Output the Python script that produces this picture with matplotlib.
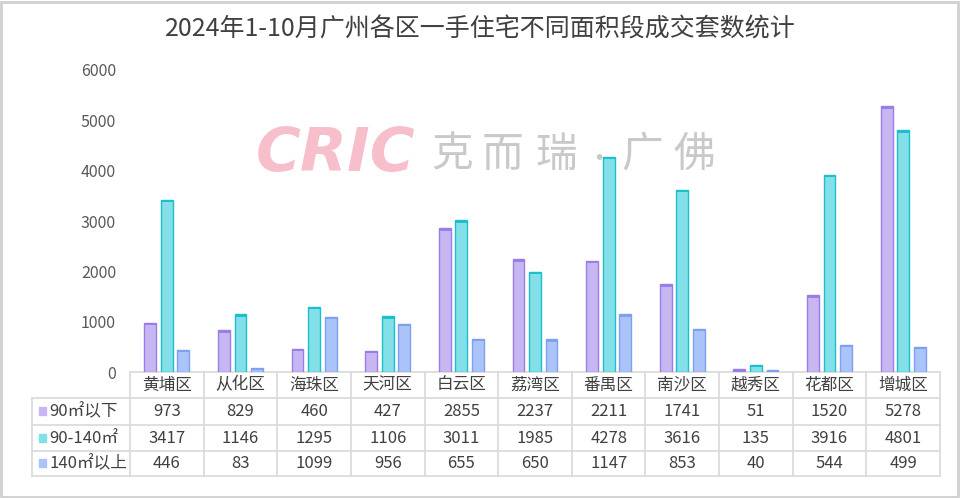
import matplotlib.pyplot as plt
from matplotlib.patches import Rectangle
from matplotlib.lines import Line2D
import matplotlib.transforms as mtransforms

plt.rcParams['font.family'] = ['Noto Sans CJK SC', 'DejaVu Sans']

# data
districts = ['黄埔区', '从化区', '海珠区', '天河区', '白云区', '荔湾区',
             '番禺区', '南沙区', '越秀区', '花都区', '增城区']
series_names = ['90㎡以下', '90-140㎡', '140㎡以上']
below90 = [973, 829, 460, 427, 2855, 2237, 2211, 1741, 51, 1520, 5278]
mid90_140 = [3417, 1146, 1295, 1106, 3011, 1985, 4278, 3616, 135, 3916, 4801]
above140 = [446, 83, 1099, 956, 655, 650, 1147, 853, 40, 544, 499]
yticks = [0, 1000, 2000, 3000, 4000, 5000, 6000]

series = [below90, mid90_140, above140]
faces = ['#c8b6f3', '#84e0e8', '#aac3f8']
edges = ['#9a7ee8', '#1cc0cd', '#7f9ff0']
offsets = [-0.225, 0.0, 0.225]

W, H = 960, 498
fig = plt.figure(figsize=(W / 100, H / 100), dpi=100)
ax = fig.add_axes([130 / W, (H - 372) / H, 810 / W, 302 / H])

n = len(districts)
xs = list(range(n))
for vals, fc, ec, off in zip(series, faces, edges, offsets):
    pos = [x + off for x in xs]
    ax.bar(pos, vals, width=0.16, color=fc, edgecolor=ec, linewidth=1.0, zorder=3)
    # cylinder-like top cap
    ax.bar(pos, [45] * len(vals), width=0.16,
           bottom=[v - 45 for v in vals], color=ec, linewidth=0, zorder=4)

ax.set_xlim(-0.5, n - 0.5)
ax.set_ylim(0, 6000)
ax.set_yticks(yticks)
ax.set_yticklabels([str(t) for t in yticks], fontsize=11.5, color='#595959')
ax.tick_params(axis='y', length=0, pad=10)
ax.set_xticks([])
for s in ax.spines.values():
    s.set_visible(False)

# table below the axes
grid_c = '#d9d9d9'
trans = mtransforms.blended_transform_factory(ax.transData, ax.transAxes)
def yf(py):
    return (372 - py) / 302.0

rows_px = [372, 398, 425, 451, 476]
xleft = -0.5 - 98 / 73.6
xright = n - 0.5
# horizontal lines
ax.add_line(Line2D([-0.5, xright], [yf(372)] * 2, transform=trans, color=grid_c, lw=1.2, clip_on=False))
for py in rows_px[1:]:
    ax.add_line(Line2D([xleft, xright], [yf(py)] * 2, transform=trans, color=grid_c, lw=1.2, clip_on=False))
# vertical lines
for i in range(n + 1):
    xv = i - 0.5
    ax.add_line(Line2D([xv, xv], [yf(372), yf(476)], transform=trans, color=grid_c, lw=1.2, clip_on=False))
ax.add_line(Line2D([xleft, xleft], [yf(398), yf(476)], transform=trans, color=grid_c, lw=1.2, clip_on=False))

txt_c = '#404040'
for i, d in enumerate(districts):
    ax.text(i, yf(385), d, transform=trans, ha='center', va='center', fontsize=12, color=txt_c)
for r, (vals, name, fc) in enumerate(zip(series, series_names, faces)):
    yc = yf((rows_px[r + 1] + rows_px[r + 2]) / 2)
    for i, v in enumerate(vals):
        ax.text(i, yc, str(v), transform=trans, ha='center', va='center', fontsize=12, color=txt_c)
    ax.text(xleft + 0.24, yc, name, transform=trans, ha='left', va='center', fontsize=12, color=txt_c)
    ax.add_patch(Rectangle((xleft + 0.1, yc - 0.012), 0.09, 0.026, transform=trans,
                           color=fc, clip_on=False))

# title
fig.text(0.5, (H - 30) / H, '2024年1-10月广州各区一手住宅不同面积段成交套数统计',
         ha='center', va='center', fontsize=18, color='#404040')

# watermark
fig.text(336 / W, (H - 155) / H, 'CRIC', ha='center', va='center', fontsize=44,
         fontweight='heavy', fontstyle='italic', color='#f7bfcc',
         family='DejaVu Sans', zorder=0)
for ch, px in zip('克而瑞', [452, 503, 556]):
    fig.text(px / W, (H - 155) / H, ch, ha='center', va='center', fontsize=30,
             color='#c9c9c9', zorder=0)
fig.text(599 / W, (H - 158) / H, '•', ha='center', va='center', fontsize=14,
         color='#c9c9c9', family='DejaVu Sans', zorder=0)
for ch, px in zip('广佛', [642, 694]):
    fig.text(px / W, (H - 155) / H, ch, ha='center', va='center', fontsize=30,
             color='#c9c9c9', zorder=0)

# outer frame
fig.add_artist(Rectangle((1 / W, 1 / H), (W - 3) / W, (H - 3) / H, transform=fig.transFigure,
                         fill=False, edgecolor='#d0d0d0', linewidth=2))

fig.savefig('out.png', dpi=100)
